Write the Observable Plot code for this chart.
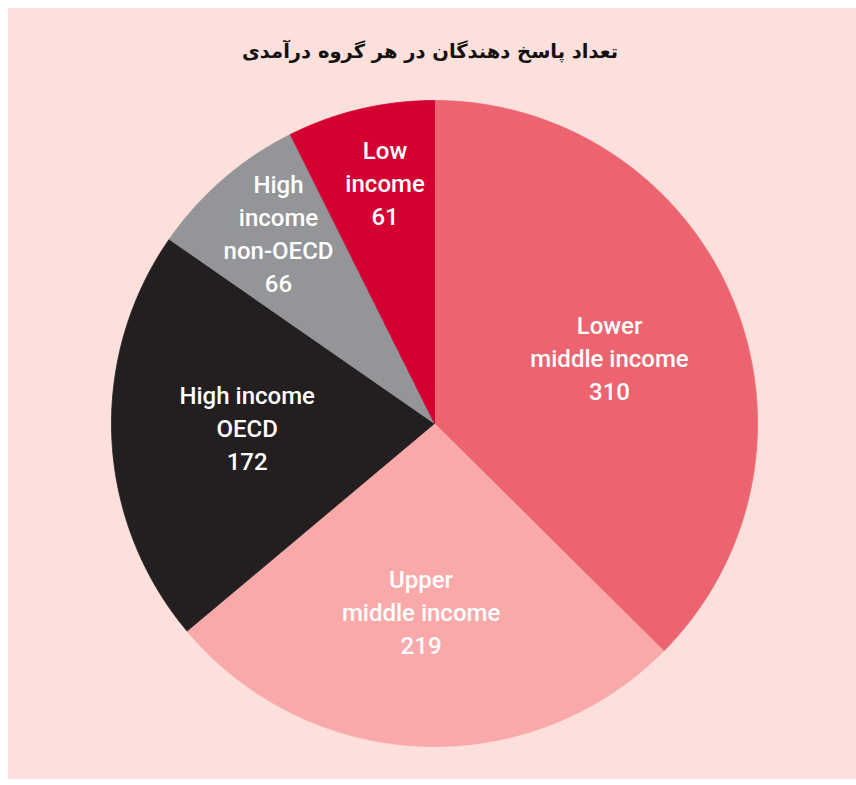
<!DOCTYPE html>
<html><head><meta charset="utf-8">
<script src="https://cdn.jsdelivr.net/npm/d3@7"></script>
<script src="https://cdn.jsdelivr.net/npm/@observablehq/plot@0.6"></script>
<style>
body{margin:8px 0 0 8px;background:#fff;}
#box{background:#fde0dc;width:848px;height:771px;overflow:hidden;}
#title{padding-top:32px;height:48px;line-height:34px;text-align:center;font:bold 19.5px "DejaVu Sans";direction:rtl;color:#111;padding-right:4px;}
svg{display:block;}
</style></head>
<body>
<div id="box"><div id="title"></div><div id="chart"></div></div>
<script>
const title = "تعداد پاسخ دهندگان در هر گروه درآمدی";
const categories = ["Lower\nmiddle income", "Upper\nmiddle income", "High income\nOECD", "High\nincome\nnon-OECD", "Low\nincome"];
const values = [310, 219, 172, 66, 61];
const colors = ["#ec6470", "#f9a9a9", "#231f20", "#939598", "#d50032"];

document.getElementById("title").textContent = title;

const total = d3.sum(values);
let acc = 0;
const slices = values.map((v, i) => {
  const a0 = acc / total * 2 * Math.PI;
  acc += v;
  const a1 = acc / total * 2 * Math.PI;
  return {key: categories[i], value: v, a0, a1};
});
const poly = [];
for (const s of slices) {
  poly.push({key: s.key, x: 0, y: 0});
  const n = Math.max(2, Math.ceil((s.a1 - s.a0) / (Math.PI / 360)));
  for (let k = 0; k <= n; k++) {
    const a = s.a0 + (s.a1 - s.a0) * k / n;
    poly.push({key: s.key, x: Math.sin(a), y: Math.cos(a)});
  }
  poly.push({key: s.key, x: 0, y: 0});
}
const labels = slices.map(s => {
  const m = (s.a0 + s.a1) / 2 + 0.03;
  const r = (s.a1 - s.a0) < 0.7 ? 0.765 : 0.58;
  return {text: s.key + "\n" + s.value, x: r * Math.sin(m), y: r * Math.cos(m)};
});

const chart = Plot.plot({
  width: 848, height: 691,
  marginLeft: 103, marginRight: 99, marginTop: 12, marginBottom: 33,
  x: {domain: [-1, 1], axis: null},
  y: {domain: [-1, 1], axis: null},
  color: {domain: categories, range: colors},
  style: {background: "transparent"},
  marks: [
    Plot.line(poly, {x: "x", y: "y", z: "key", fill: "key", stroke: "key", strokeWidth: 0.8, curve: "linear"}),
    Plot.text(labels, {x: "x", y: "y", text: "text", fill: "white", fontSize: 24, fontWeight: 500, lineHeight: 1.37, fontFamily: "Roboto, sans-serif"})
  ]
});
document.getElementById("chart").appendChild(chart);
</script>
</body></html>
